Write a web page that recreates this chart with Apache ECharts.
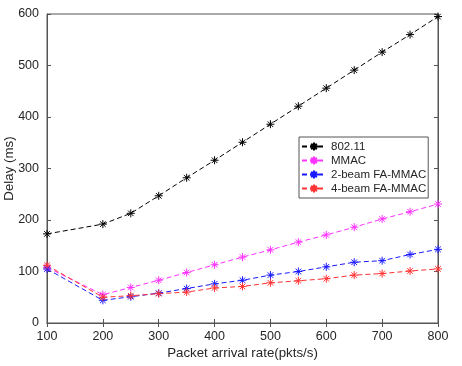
<!DOCTYPE html>
<html><head><meta charset="utf-8">
<script src="https://cdn.jsdelivr.net/npm/echarts@6/dist/echarts.min.js"></script>
<style>html,body{margin:0;padding:0;background:#fff}#c{width:462px;height:366px}</style>
</head><body><div id="c"></div>
<script>
var rates = [100,200,250,300,350,400,450,500,550,600,650,700,750,800];
var ieee80211 = [173,192,213,247,282,316,351,386,421,456,491,526,560,595];
var mmac = [108,55,69,83,98,113,128,142,157,171,186,202,216,231];
var beam2 = [105,44,51,58,67,76,83,93,100,109,118,121,133,143];
var beam4 = [112,50,53,57,60,68,71,78,82,86,93,96,101,105];
var xTicks = [100,200,300,400,500,600,700,800];
var yTicks = [0,100,200,300,400,500,600];

var star = 'path://M0,-5L0,5M-5,0L5,0M-3.5,-3.5L3.5,3.5M-3.5,3.5L3.5,-3.5';
function pairs(v){ return rates.map(function(r,i){return [r,v[i]];}); }
function mk(name, data, color){
  return {
    name: name, type: 'line', data: pairs(data),
    symbol: star, symbolSize: 8,
    itemStyle: {color: color, borderColor: color, borderWidth: 1},
    lineStyle: {color: color, width: 1, type: [5,3]},
    emphasis: {disabled: true}, animation: false
  };
}
var axisCol = '#555';
var txt = '#262626';
var font = 'Liberation Sans, Arial, sans-serif';
var chart = echarts.init(document.getElementById('c'), null, {renderer: 'canvas'});
chart.setOption({
  backgroundColor: '#fff',
  animation: false,
  grid: {left: 47, right: 24, top: 14, bottom: 43, show: true, borderColor: axisCol, borderWidth: 1,
         containLabel: false, outerBoundsMode: 'none'},
  legend: {
    orient: 'vertical', left: 299, top: 137,
    backgroundColor: '#fff', borderColor: '#555', borderWidth: 1,
    padding: [3, 2, 3, 2], itemGap: 1, itemWidth: 24, itemHeight: 10,
    textStyle: {fontFamily: font, fontSize: 11.5, color: txt, lineHeight: 13},
    data: ['802.11','MMAC','2-beam FA-MMAC','4-beam FA-MMAC']
  },
  xAxis: [{
    type: 'value', min: 100, max: 800, interval: 100,
    name: 'Packet arrival rate(pkts/s)', nameLocation: 'middle', nameGap: 24, nameMoveOverlap: false,
    nameTextStyle: {fontFamily: font, fontSize: 13.3, color: txt},
    axisLine: {lineStyle: {color: axisCol}},
    axisTick: {inside: true, length: 4, lineStyle: {color: axisCol}},
    axisLabel: {fontFamily: font, fontSize: 12.5, color: txt, margin: 7,
      formatter: function(v){ return xTicks.indexOf(v) >= 0 ? String(v) : ''; }},
    splitLine: {show: false}
  },{
    type: 'value', min: 100, max: 800, interval: 100, position: 'top',
    axisLine: {lineStyle: {color: axisCol}},
    axisTick: {inside: true, length: 4, lineStyle: {color: axisCol}},
    axisLabel: {show: false}, splitLine: {show: false}
  }],
  yAxis: [{
    type: 'value', min: 0, max: 600, interval: 100,
    name: 'Delay (ms)', nameLocation: 'middle', nameGap: 31, nameMoveOverlap: false,
    nameTextStyle: {fontFamily: font, fontSize: 13.3, color: txt},
    axisLine: {show: true, lineStyle: {color: axisCol}},
    axisTick: {show: true, inside: true, length: 4, lineStyle: {color: axisCol}},
    axisLabel: {fontFamily: font, fontSize: 12.5, color: txt, margin: 8,
      formatter: function(v){ return yTicks.indexOf(v) >= 0 ? String(v) : ''; }},
    splitLine: {show: false}
  },{
    type: 'value', min: 0, max: 600, interval: 100, position: 'right',
    axisLine: {show: true, lineStyle: {color: axisCol}},
    axisTick: {show: true, inside: true, length: 4, lineStyle: {color: axisCol}},
    axisLabel: {show: false}, splitLine: {show: false}
  }],
  series: [
    mk('802.11', ieee80211, '#000000'),
    mk('MMAC', mmac, '#ff33ff'),
    mk('2-beam FA-MMAC', beam2, '#1a1aff'),
    mk('4-beam FA-MMAC', beam4, '#ff3333')
  ]
});
</script>
</body></html>
